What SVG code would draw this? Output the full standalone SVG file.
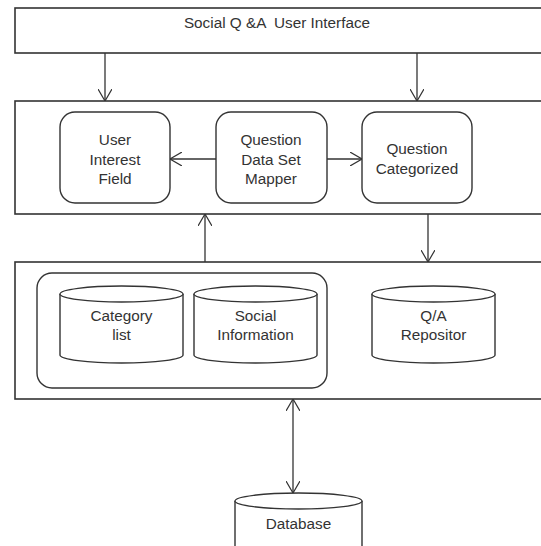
<svg xmlns="http://www.w3.org/2000/svg" width="541" height="546" viewBox="0 0 541 546">
<defs>
<marker id="v" viewBox="0 0 12 14" refX="12" refY="7" markerWidth="12" markerHeight="14" markerUnits="userSpaceOnUse" orient="auto-start-reverse">
<path d="M0,0 L12,7 L0,14" fill="none" stroke="#333" stroke-width="1.2"/>
</marker>
</defs>
<style>
.box{fill:#fff;stroke:#333;stroke-width:1.6}
.rb{fill:#fff;stroke:#333;stroke-width:1.4}
.cyl{fill:#fff;stroke:#333;stroke-width:1.4}
.t{font-family:"Liberation Sans",Arial,sans-serif;font-size:15.3px;fill:#333;text-anchor:middle;white-space:pre}
.c{fill:none;stroke:#333;stroke-width:1.3}
</style>
<rect width="541" height="546" fill="#fff"/>
<g id="ui">
<rect class="box" x="15" y="8" width="535" height="45"/>
<text class="t" x="277" y="28" xml:space="preserve">Social Q &amp;A  User Interface</text>
</g>
<g id="middle">
<rect class="box" x="15" y="101" width="535" height="113"/>
</g>
<g id="userInterest">
<rect class="rb" x="60" y="112" width="110" height="91" rx="15"/>
<text class="t" x="115" y="145">User</text>
<text class="t" x="115" y="165">Interest</text>
<text class="t" x="115" y="184">Field</text>
</g>
<g id="mapper">
<rect class="rb" x="216" y="112" width="111" height="91" rx="15"/>
<text class="t" x="271" y="145">Question</text>
<text class="t" x="271" y="165">Data Set</text>
<text class="t" x="271" y="184">Mapper</text>
</g>
<g id="categorized">
<rect class="rb" x="362" y="112" width="110" height="91" rx="15"/>
<text class="t" x="417" y="154">Question</text>
<text class="t" x="417" y="174">Categorized</text>
</g>
<g id="storage">
<rect class="box" x="15" y="262" width="535" height="137"/>
<rect class="rb" x="37" y="273" width="290" height="115" rx="15"/>
</g>
<g id="categoryList">
<path class="cyl" d="M60,294 L60,355 A61.5,8 0 0 0 183,355 L183,294"/>
<ellipse class="cyl" cx="121.5" cy="294" rx="61.5" ry="8"/>
<text class="t" x="121.5" y="321">Category</text>
<text class="t" x="121.5" y="340">list</text>
</g>
<g id="socialInfo">
<path class="cyl" d="M194,294 L194,355 A61.5,8 0 0 0 317,355 L317,294"/>
<ellipse class="cyl" cx="255.5" cy="294" rx="61.5" ry="8"/>
<text class="t" x="255.5" y="321">Social</text>
<text class="t" x="255.5" y="340">Information</text>
</g>
<g id="qaRepository">
<path class="cyl" d="M372,294 L372,355 A61.5,8 0 0 0 495,355 L495,294"/>
<ellipse class="cyl" cx="433.5" cy="294" rx="61.5" ry="8"/>
<text class="t" x="433.5" y="321">Q/A</text>
<text class="t" x="433.5" y="340">Repositor</text>
</g>
<g id="database">
<path class="cyl" d="M235,501 L235,548 L362,548 L362,501"/>
<ellipse class="cyl" cx="298.5" cy="501" rx="63.5" ry="8"/>
<text class="t" x="298.5" y="529">Database</text>
</g>
<g id="connectors">
<line class="c" x1="105" y1="53" x2="105" y2="101" marker-end="url(#v)"/>
<line class="c" x1="417" y1="53" x2="417" y2="101" marker-end="url(#v)"/>
<line class="c" x1="216" y1="159" x2="170" y2="159" marker-end="url(#v)"/>
<line class="c" x1="327" y1="159" x2="362" y2="159" marker-end="url(#v)"/>
<line class="c" x1="205" y1="262" x2="205" y2="214" marker-end="url(#v)"/>
<line class="c" x1="428" y1="214" x2="428" y2="262" marker-end="url(#v)"/>
<line class="c" x1="293" y1="399" x2="293" y2="493" marker-start="url(#v)" marker-end="url(#v)"/>
</g>
</svg>
